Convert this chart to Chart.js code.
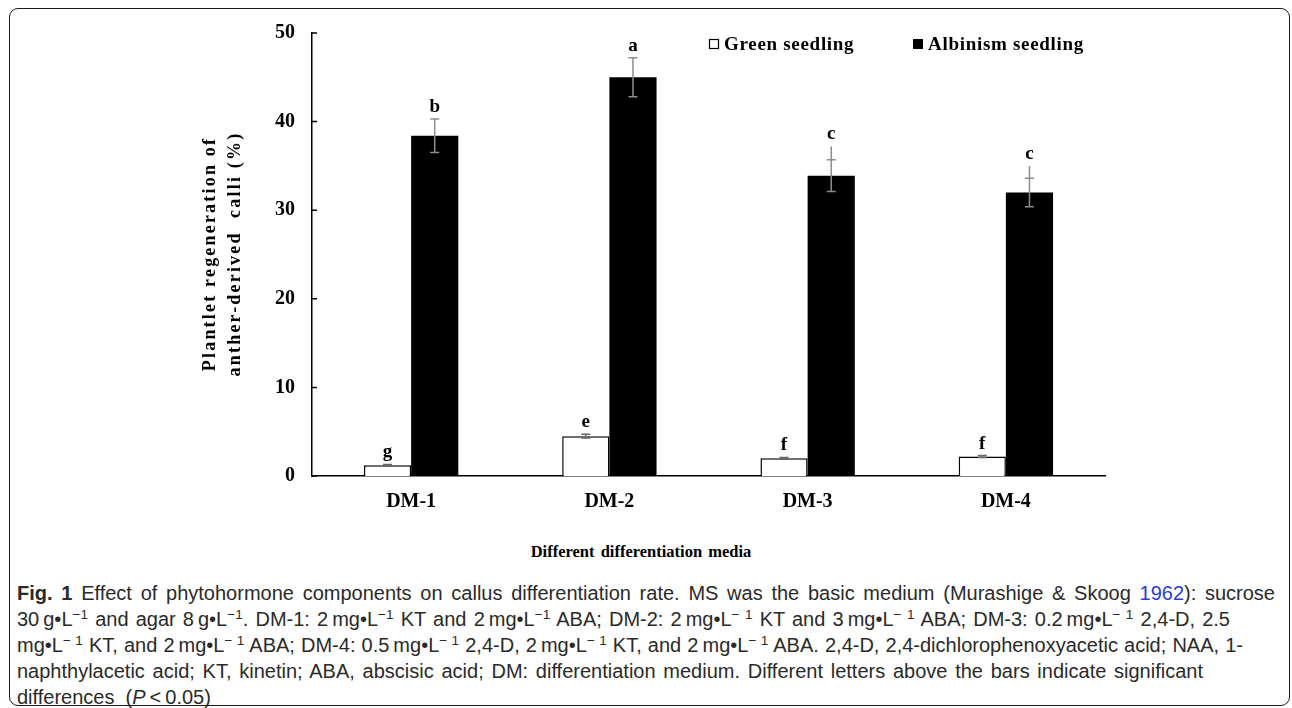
<!DOCTYPE html>
<html><head><meta charset="utf-8">
<script src="https://cdn.jsdelivr.net/npm/chart.js@4/dist/chart.umd.min.js"></script>
<style>
html,body{margin:0;padding:0;background:#fff;width:1292px;height:708px;overflow:hidden;}
#frame{position:absolute;left:9px;top:8px;width:1281px;height:698px;border:1.6px solid #1a1a1a;border-radius:9px;box-sizing:border-box;}
#wrap{position:absolute;left:0;top:0;width:1292px;height:530px;}
#xtitle{position:absolute;top:542px;left:441px;width:400px;text-align:center;font-family:'Liberation Serif','Times New Roman',serif;font-weight:bold;font-size:16.5px;word-spacing:2px;color:#000;white-space:nowrap;}
#caption{position:absolute;left:17px;top:580px;font-family:'Liberation Sans Narrow','Liberation Sans',sans-serif;font-size:20px;line-height:26px;color:#2a2a2a;}
.ln{text-align:justify;text-align-last:justify;}
sup{font-size:0.68em;line-height:0;vertical-align:0.55em;}
.ref{color:#2b3bd6;}
</style>
</head><body>
<div id="wrap"><canvas id="c"></canvas></div>
<div id="xtitle">Different differentiation media</div>
<div id="caption">
<div class="ln" style="width:1258px"><b>Fig. 1</b> Effect of phytohormone components on callus differentiation rate. MS was the basic medium (Murashige &amp; Skoog <span class="ref">1962</span>): sucrose</div>
<div class="ln" style="width:1213px">30&#8201;g•L<sup>−1</sup> and agar 8&#8201;g•L<sup>−1</sup>. DM-1: 2&#8201;mg•L<sup>−1</sup> KT and 2&#8201;mg•L<sup>−1</sup> ABA; DM-2: 2&#8201;mg•L<sup>− 1</sup> KT and 3&#8201;mg•L<sup>− 1</sup> ABA; DM-3: 0.2&#8201;mg•L<sup>− 1</sup> 2,4-D, 2.5</div>
<div class="ln" style="width:1226px">mg•L<sup>− 1</sup> KT, and 2&#8201;mg•L<sup>− 1</sup> ABA; DM-4: 0.5&#8201;mg•L<sup>− 1</sup> 2,4-D, 2&#8201;mg•L<sup>− 1</sup> KT, and 2&#8201;mg•L<sup>− 1</sup> ABA. 2,4-D, 2,4-dichlorophenoxyacetic acid; NAA, 1-</div>
<div class="ln" style="width:1186px">naphthylacetic acid; KT, kinetin; ABA, abscisic acid; DM: differentiation medium. Different letters above the bars indicate significant</div>
<div>differences &nbsp;(<i>P</i>&#8201;&lt;&#8201;0.05)</div>
</div>
<div id="frame"></div>
<script>
// ---- data ----
const categories = ['DM-1', 'DM-2', 'DM-3', 'DM-4'];
const seriesNames = ['Green seedling', 'Albinism seedling'];
const greenValues = [1.2, 4.5, 2.0, 2.2];
const greenErrors = [0.1, 0.2, 0.1, 0.1];
const albinoValues = [38.4, 45.0, 33.9, 32.0];
const albinoErrors = [1.9, 2.2, 1.8, 1.6];
const albinoWhiskerTop = [null, null, 37.2, 35.0];
const greenLetters = ['g', 'e', 'f', 'f'];
const albinoLetters = ['b', 'a', 'c', 'c'];
const yTicks = [0, 10, 20, 30, 40, 50];
const yTitleLines = ['Plantlet regeneration of', 'anther-derived  calli (%)'];

const serif = "'Liberation Serif','Times New Roman',serif";

const decor = {
  id: 'decor',
  afterDatasetsDraw(chart) {
    const ctx = chart.ctx, ys = chart.scales.y;
    const errs = [greenErrors, albinoErrors];
    const letters = [greenLetters, albinoLetters];
    chart.data.datasets.forEach((ds, di) => {
      const meta = chart.getDatasetMeta(di);
      meta.data.forEach((bar, i) => {
        const v = ds.data[i], e = errs[di][i];
        const x = bar.x;
        const yHi = ys.getPixelForValue(v + e), yLo = ys.getPixelForValue(v - e);
        let yTop = yHi;
        if (di === 1 && albinoWhiskerTop[i] != null) yTop = ys.getPixelForValue(albinoWhiskerTop[i]);
        ctx.save();
        ctx.strokeStyle = di === 1 ? '#8d8d8d' : '#666';
        ctx.lineWidth = 1.5;
        ctx.beginPath();
        ctx.moveTo(x, yTop); ctx.lineTo(x, yLo);
        ctx.moveTo(x - 4.5, yHi); ctx.lineTo(x + 4.5, yHi);
        ctx.moveTo(x - 4.5, yLo); ctx.lineTo(x + 4.5, yLo);
        ctx.stroke();
        ctx.fillStyle = '#000';
        ctx.font = 'bold 19px ' + serif;
        ctx.textAlign = 'center';
        ctx.textBaseline = 'alphabetic';
        ctx.fillText(letters[di][i], x, Math.min(yTop, yHi) - 7);
        ctx.restore();
      });
    });
  },
  afterDraw(chart) {
    const ctx = chart.ctx, ys = chart.scales.y, ca = chart.chartArea;
    ctx.save();
    // inward y ticks
    ctx.strokeStyle = '#000'; ctx.lineWidth = 1.5;
    ctx.beginPath();
    yTicks.forEach(v => { const p = ys.getPixelForValue(v); ctx.moveTo(ca.left, p); ctx.lineTo(ca.left + 5, p); });
    ctx.stroke();
    // y title
    ctx.fillStyle = '#000';
    ctx.font = 'bold 18px ' + serif;
    ctx.textAlign = 'center'; ctx.textBaseline = 'middle';
    ctx.letterSpacing = '2.2px';
    const cy = 254;
    [210, 235].forEach((cx, k) => {
      ctx.save(); ctx.translate(cx, cy); ctx.rotate(-Math.PI / 2);
      ctx.fillText(yTitleLines[k], 0, 0);
      ctx.restore();
    });
    ctx.letterSpacing = '0.7px';
    // legend
    ctx.font = 'bold 19px ' + serif;
    ctx.textAlign = 'left'; ctx.textBaseline = 'middle';
    const legendX = [709, 913];
    chart.data.datasets.forEach((ds, di) => {
      const lx = legendX[di], ly = 44;
      ctx.lineWidth = 1.2; ctx.strokeStyle = '#000';
      if (di === 0) { ctx.fillStyle = '#fff'; ctx.fillRect(lx, ly - 5, 10, 10); ctx.strokeRect(lx + 0.5, ly - 4.5, 9, 9); }
      else { ctx.fillStyle = '#000'; ctx.fillRect(lx, ly - 5, 10, 10); }
      ctx.fillStyle = '#000';
      ctx.fillText(ds.label, lx + 15, ly + 1);
    });
    ctx.restore();
  }
};

new Chart(document.getElementById('c'), {
  type: 'bar',
  data: {
    labels: categories,
    datasets: [
      { label: seriesNames[0], data: greenValues, backgroundColor: '#fff', borderColor: '#000', borderWidth: 1.5, categoryPercentage: 0.476, barPercentage: 1.0 },
      { label: seriesNames[1], data: albinoValues, backgroundColor: '#000', borderColor: '#000', borderWidth: 0, categoryPercentage: 0.476, barPercentage: 1.0 }
    ]
  },
  options: {
    responsive: true, maintainAspectRatio: false, animation: false, devicePixelRatio: 1,
    layout: { padding: { top: 33, right: 187, left: 0, bottom: 0 } },
    plugins: { legend: { display: false }, tooltip: { enabled: false }, title: { display: false } },
    scales: {
      x: {
        grid: { display: false, drawTicks: false },
        border: { display: true, color: '#000', width: 1.5 },
        ticks: { color: '#000', padding: 14, font: { family: serif, size: 20, weight: 'bold' } },
        afterFit(s) { s.height = 54; }
      },
      y: {
        min: 0, max: 50,
        grid: { display: false, drawTicks: false },
        border: { display: true, color: '#000', width: 1.5 },
        ticks: { color: '#000', padding: 17, font: { family: serif, size: 20, weight: 'bold' } },
        afterBuildTicks(s) { s.ticks = yTicks.map(v => ({ value: v })); },
        afterFit(s) { s.width = 312; }
      }
    }
  },
  plugins: [decor]
});
</script>
</body></html>
